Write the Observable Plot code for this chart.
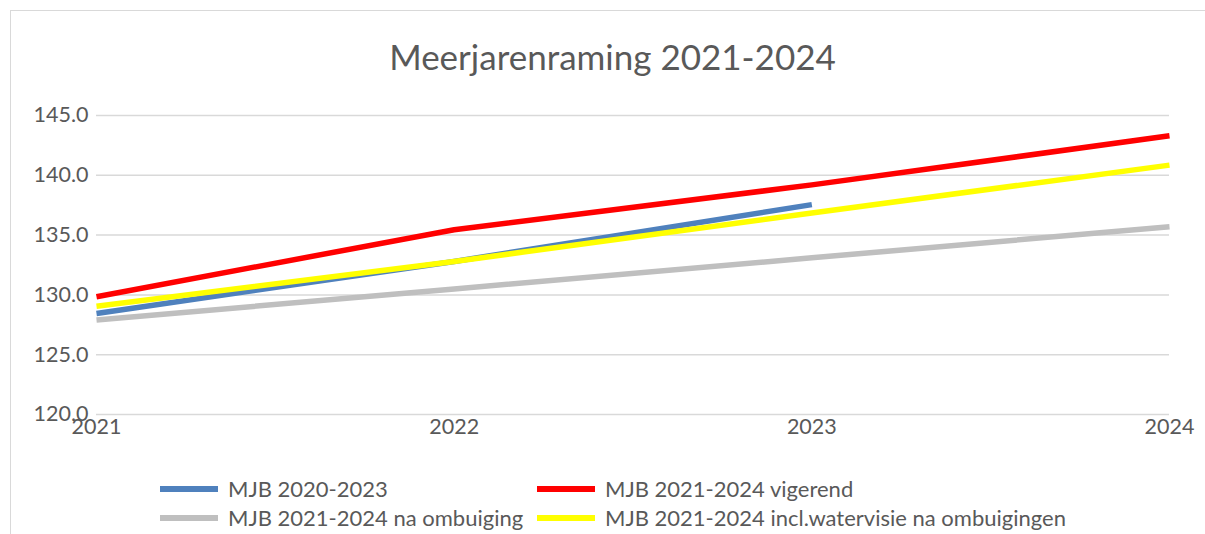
<!DOCTYPE html>
<html>
<head>
<meta charset="utf-8">
<script src="https://cdn.jsdelivr.net/npm/d3@7"></script>
<script src="https://cdn.jsdelivr.net/npm/@observablehq/plot@0.6"></script>
<style>
  html, body { margin: 0; padding: 0; background: #fff; }
  #wrap { position: relative; width: 1205px; height: 534px; overflow: hidden; font-family: Lato, "Open Sans", sans-serif; color: #595959; }
  #frame { position: absolute; left: 10px; top: 10px; width: 1200px; height: 600px; border: 1.5px solid #d9d9d9; box-sizing: border-box; }
  #title { position: absolute; left: 0; width: 1225px; top: 36px; text-align: center; font-size: 35px; line-height: 40px; }
  #chart { position: absolute; left: 0; top: 95px; }
  .leg { position: absolute; font-size: 22px; line-height: 24px; white-space: nowrap; }
  .sw { position: absolute; width: 58px; height: 6px; }
</style>
</head>
<body>
<div id="wrap">
  <div id="frame"></div>
  <div id="title">Meerjarenraming 2021-2024</div>
  <div id="chart"></div>
  <div id="legend"></div>
</div>
<script>
const years = [2021, 2022, 2023, 2024];
const seriesNames = [
  "MJB 2020-2023",
  "MJB 2021-2024 vigerend",
  "MJB 2021-2024 na ombuiging",
  "MJB 2021-2024 incl.watervisie na ombuigingen"
];
const seriesColors = ["#4F81BD", "#FF0000", "#BFBFBF", "#FFFF00"];
const mjb2020 = [128.45, 132.8, 137.55, null];
const vigerend = [129.85, 135.45, 139.2, 143.3];
const naOmbuiging = [127.9, 130.5, 133.1, 135.7];
const watervisie = [129.05, 132.8, 136.85, 140.85];
const yTicks = [120, 125, 130, 135, 140, 145];

const allValues = [mjb2020, vigerend, naOmbuiging, watervisie];
const rows = [];
allValues.forEach((vals, si) => {
  vals.forEach((v, i) => {
    if (v != null) rows.push({series: seriesNames[si], year: years[i], value: v});
  });
});

const chart = Plot.plot({
  width: 1205,
  height: 370,
  marginLeft: 96,
  marginRight: 36,
  marginTop: 20,
  marginBottom: 51,
  style: {fontFamily: "Lato, 'Open Sans', sans-serif", fontSize: "21px", color: "#595959", background: "transparent"},
  x: {domain: [years[0], years[years.length - 1]], axis: null},
  y: {domain: [yTicks[0], yTicks[yTicks.length - 1]], axis: null},
  color: {domain: seriesNames, range: seriesColors},
  marks: [
    Plot.ruleY(yTicks, {stroke: "#d9d9d9", strokeWidth: 1.5}),
    Plot.axisY({ticks: yTicks, tickSize: 0, tickPadding: 8, tickFormat: d3.format(".1f"), label: null, fill: "#595959", fontSize: 21.5}),
    Plot.axisX({ticks: years, tickSize: 0, tickPadding: 4, tickFormat: d => String(d), label: null, fill: "#595959", fontSize: 21.5}),
    Plot.line(rows, {x: "year", y: "value", z: "series", stroke: "series", strokeWidth: 5.5, strokeLinecap: "butt", strokeLinejoin: "round"})
  ]
});
document.getElementById("chart").appendChild(chart);

// legend
const legend = document.getElementById("legend");
const legPos = [
  {x: 160, y: 489},
  {x: 537, y: 489},
  {x: 160, y: 518},
  {x: 537, y: 518}
];
seriesNames.forEach((name, i) => {
  const p = legPos[i];
  const sw = document.createElement("div");
  sw.className = "sw";
  sw.style.left = p.x + "px";
  sw.style.top = (p.y - 3) + "px";
  sw.style.background = seriesColors[i];
  legend.appendChild(sw);
  const t = document.createElement("div");
  t.className = "leg";
  t.style.left = (p.x + 68) + "px";
  t.style.top = (p.y - 12) + "px";
  t.textContent = name;
  legend.appendChild(t);
});
</script>
</body>
</html>
